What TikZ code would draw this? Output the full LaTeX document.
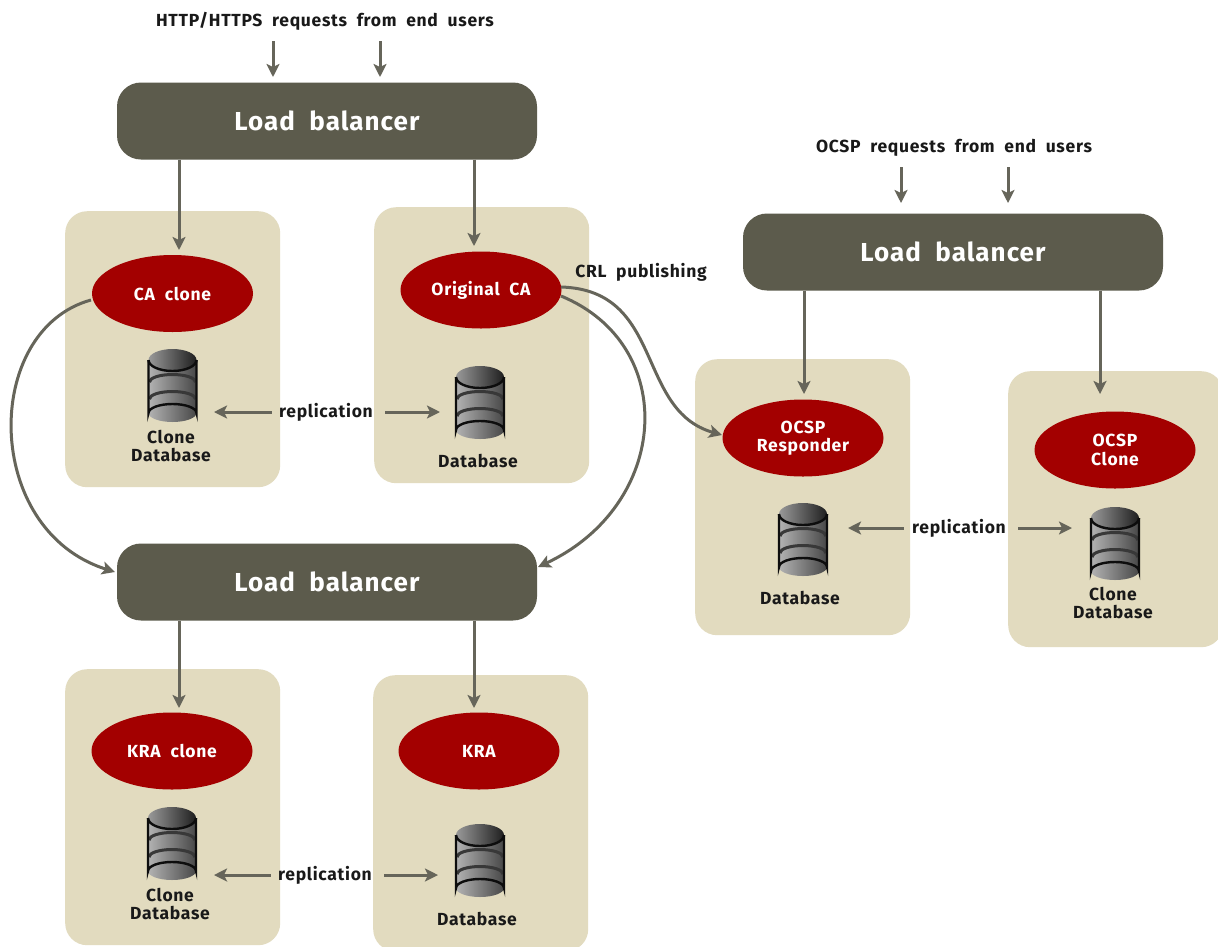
\documentclass[tikz,border=0pt]{standalone}
\usepackage{fontspec}
\setmainfont[LetterSpace=4,WordSpace=2]{Fira Sans}
\usetikzlibrary{arrows.meta,shapes.geometric}
\definecolor{panelc}{HTML}{E2DBBF}
\definecolor{lbc}{HTML}{5C5B4C}
\definecolor{redc}{HTML}{A30000}
\definecolor{linec}{HTML}{66655A}
\tikzset{
  x=1pt,y=-1pt,
  panel/.style={fill=panelc,rounded corners=22pt,minimum width=215pt,minimum height=276pt,inner sep=0pt},
  lb/.style={fill=lbc,rounded corners=24pt,minimum width=420pt,minimum height=77pt,text=white,font=\bfseries\fontsize{26}{26}\selectfont},
  redel/.style={ellipse,fill=redc,text=white,minimum width=161pt,minimum height=77pt,inner sep=0pt,align=center,font=\bfseries\fontsize{17.5}{18.5}\selectfont},
  lab/.style={font=\bfseries\fontsize{17.5}{18.5}\selectfont,text=black!90,align=center,inner sep=0pt},
  conn/.style={draw=linec,line width=3pt,-{Stealth[length=13pt,width=13pt,inset=3pt]}},
  dub/.style={draw=linec,line width=3pt,{Stealth[length=13pt,width=13pt,inset=3pt]}-},
}
\newcommand{\dbcyl}[3]{%
  \begin{scope}[shift={(#2,#3)}]
    \coordinate (#1) at (0,0);
    \path[left color=black!30,right color=black!72] (-24,-26) -- (24,-26) -- (24,27) arc[start angle=0,end angle=-180,x radius=24,y radius=-9] -- cycle;
    \draw[line width=3pt,black!78] (-23,-4) arc[start angle=180,end angle=360,x radius=23,y radius=7.5];
    \draw[line width=3pt,black!78] (-23,13) arc[start angle=180,end angle=360,x radius=23,y radius=7.5];
    \path[left color=black!40,right color=black!88] (0,-26) ellipse[x radius=24,y radius=11];
    \draw[line width=2.4pt,black!95] (-24,-26) -- (-24,27) arc[start angle=180,end angle=360,x radius=24,y radius=9] -- (24,-26);
    \draw[line width=2.4pt,black!95] (-24,-26) arc[start angle=180,end angle=0,x radius=24,y radius=11];
  \end{scope}}
\begin{document}
\begin{tikzpicture}
\useasboundingbox (0,0) rectangle (1218,946);
\fill[white] (0,0) rectangle (1218,946);
\node[panel,anchor=north west] (p1) at (65,211) {};
\node[panel,anchor=north west] (p2) at (374,207) {};
\node[panel,anchor=north west] (p3) at (65,669) {};
\node[panel,anchor=north west] (p4) at (373,675) {};
\node[panel,anchor=north west] (p5) at (695,359) {};
\node[panel,anchor=north west] (p6) at (1008,371) {};
\node[lb] (lb1) at (327,121) {Load balancer};
\node[lb] (lb2) at (327,582) {Load balancer};
\node[lb] (lb3) at (953,252) {Load balancer};
\node[redel] (e1) at (172.5,293.5) {CA clone};
\node[redel] (e2) at (481,290) {Original CA};
\node[redel] (e3) at (172,751) {KRA clone};
\node[redel] (e4) at (479,751) {KRA};
\node[redel] (e5) at (803,438) {OCSP\\Responder};
\node[redel] (e6) at (1115,450) {OCSP\\Clone};
\dbcyl{d1}{172.5}{386}
\dbcyl{d2}{480}{403}
\dbcyl{d3}{172}{844}
\dbcyl{d4}{480}{861}
\dbcyl{d5}{803}{540}
\dbcyl{d6}{1115}{544}
\node[lab] (t1) at (171,446) {Clone\\Database};
\node[lab] (t2) at (478,461) {Database};
\node[lab] (t3) at (170,904) {Clone\\Database};
\node[lab] (t4) at (477,919) {Database};
\node[lab] (t5) at (800,598) {Database};
\node[lab] (t6) at (1113,603) {Clone\\Database};
\node[lab] (r1) at (326,412) {replication};
\node[lab] (r2) at (325,875) {replication};
\node[lab] (r3) at (959,528) {replication};
\node[lab] (h1) at (325,21) {HTTP/HTTPS requests from end users};
\node[lab] (h2) at (954,148) {OCSP requests from end users};
\node[lab] (crl) at (641,272) {CRL publishing};
\coordinate (a1) at (273,41); \coordinate (a2) at (380,41);
\coordinate (a3) at (901,167); \coordinate (a4) at (1008,167);
\coordinate (b1) at (273,77); \coordinate (b2) at (380,77);
\coordinate (b3) at (901,203); \coordinate (b4) at (1008,203);
\draw[conn] (a1) -- (b1);
\draw[conn] (a2) -- (b2);
\draw[conn] (a3) -- (b3);
\draw[conn] (a4) -- (b4);
\coordinate (c1) at (179,250); \coordinate (c2) at (474,246);
\coordinate (c3) at (179,708); \coordinate (c4) at (474,708);
\coordinate (c5) at (804,394); \coordinate (c6) at (1100,394);
\draw[conn] (lb1.south -| c1) -- (c1);
\draw[conn] (lb1.south -| c2) -- (c2);
\draw[conn] (lb2.south -| c3) -- (c3);
\draw[conn] (lb2.south -| c4) -- (c4);
\draw[conn] (lb3.south -| c5) -- (c5);
\draw[conn] (lb3.south -| c6) -- (c6);
\coordinate (m1) at (214,412); \coordinate (m2) at (440,412);
\coordinate (m3) at (214,875); \coordinate (m4) at (438,876);
\coordinate (m5) at (848,528); \coordinate (m6) at (1072,528);
\draw[dub] (m1) -- (272,412);
\draw[conn] (385,412) -- (m2);
\draw[dub] (m3) -- (271,875);
\draw[conn] (384,875) -- (m4 |- 0,875);
\draw[dub] (m5) -- (904,528);
\draw[conn] (1018,528) -- (m6);
\coordinate (la) at (115,572); \coordinate (lc) at (538,567); \coordinate (lr) at (722,435);
\draw[conn] (91,300) .. controls (-18,330) and (-18,530) .. (la);
\draw[conn] (561,296) .. controls (680,345) and (670,505) .. (lc);
\draw[conn] (561,287) .. controls (665,290) and (635,410) .. (lr);
\end{tikzpicture}
\end{document}
